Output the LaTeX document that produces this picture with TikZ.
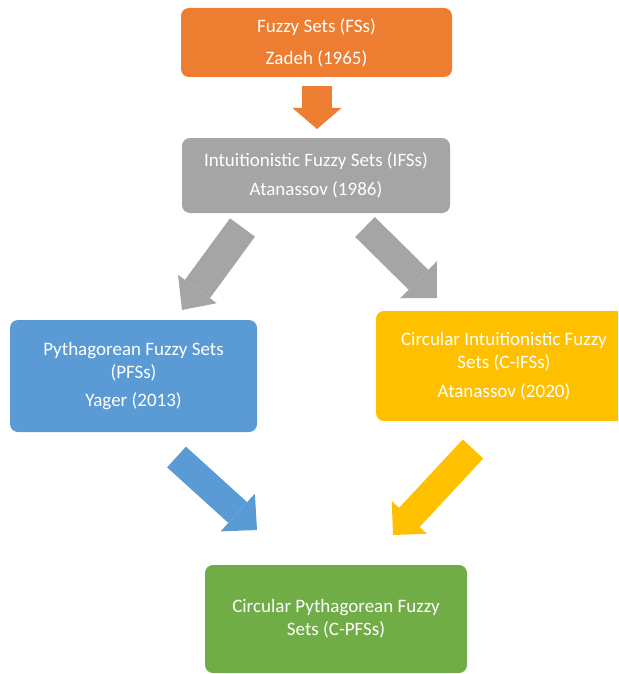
\documentclass[tikz,border=0pt]{standalone}
\usepackage{fontspec}
\setmainfont{Carlito}
\usepackage{xcolor}
\usetikzlibrary{arrows.meta}
\definecolor{fsorange}{HTML}{ED7D31}
\definecolor{ifsgray}{HTML}{A5A5A5}
\definecolor{pfsblue}{HTML}{5B9BD5}
\definecolor{cifsyellow}{HTML}{FFC000}
\definecolor{cpfsgreen}{HTML}{70AD47}

\begin{document}
\begin{tikzpicture}[x=1pt, y=-1pt,
  box/.style={draw=none, rounded corners=8pt, text=white, align=center, inner sep=0pt, font=\fontsize{19}{23}\selectfont},
  blockarr/.style n args={3}{line width=#1, -{Triangle[length=#2, width=#3, line width=0pt]}}]
\clip (0,0) rectangle (618,674);
\node[box, fill=fsorange, minimum width=271pt, minimum height=69pt] (fs) at (316.5,42.5) {Fuzzy Sets (FSs)\\[9pt]Zadeh (1965)};
\node[box, fill=ifsgray, minimum width=268pt, minimum height=75pt] (ifs) at (316,175.5) {Intuitionistic Fuzzy Sets (IFSs)\\[6pt]Atanassov (1986)};
\node[box, fill=pfsblue, minimum width=247pt, minimum height=112pt] (pfs) at (133.5,376) {Pythagorean Fuzzy Sets\\(PFSs)\\[5pt]Yager (2013)};
\node[box, fill=cifsyellow, minimum width=256pt, minimum height=110pt] (cifs) at (504,366) {Circular Intuitionistic Fuzzy\\Sets (C-IFSs)\\[6pt]Atanassov (2020)};
\node[box, fill=cpfsgreen, minimum width=262pt, minimum height=108pt] (cpfs) at (336,619) {Circular Pythagorean Fuzzy\\Sets (C-PFSs)};
% block arrows
\coordinate (o1) at (317,86);    \coordinate (o2) at (317,129);
\coordinate (g1) at (242.5,227.5); \coordinate (g2) at (182,310);
\coordinate (g3) at (365,227);   \coordinate (g4) at (437,298);
\coordinate (b1) at (176.5,457); \coordinate (b2) at (257,530);
\coordinate (y1) at (473,449);   \coordinate (y2) at (393,535);
\draw[blockarr={30pt}{21pt}{49pt}, fsorange] (o1) -- (o2);
\draw[blockarr={31pt}{26pt}{48pt}, ifsgray] (g1) -- (g2);
\draw[blockarr={28pt}{26pt}{52pt}, ifsgray] (g3) -- (g4);
\draw[blockarr={28pt}{26pt}{51pt}, pfsblue] (b1) -- (b2);
\draw[blockarr={28pt}{24pt}{48pt}, cifsyellow] (y1) -- (y2);
\end{tikzpicture}
\end{document}
